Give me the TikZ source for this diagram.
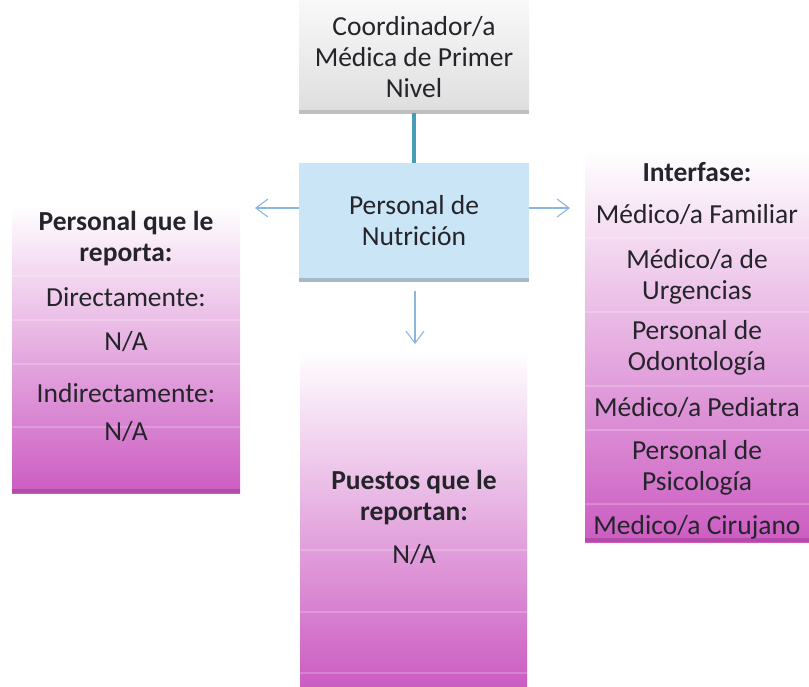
\documentclass[tikz,border=0pt]{standalone}
\usepackage{fontspec}
\setmainfont{Carlito}
\usetikzlibrary{arrows.meta}
\definecolor{txtc}{RGB}{36,36,42}
\definecolor{magc}{RGB}{204,92,194}
\definecolor{magdark}{RGB}{178,76,168}
\definecolor{lblue}{RGB}{202,229,245}
\definecolor{bshadow}{RGB}{165,185,200}
\definecolor{conncol}{RGB}{72,156,182}
\definecolor{arrcol}{RGB}{140,182,226}
\tikzset{
  lbl/.style={font=\fontsize{27.5}{31}\selectfont, text=txtc, align=center, inner sep=0pt},
  blbl/.style={lbl, font=\fontsize{27.5}{31}\selectfont\bfseries},
  magbox/.style={shade, top color=white, bottom color=magc, draw=none, inner sep=0pt, anchor=north west},
  rowline/.style={draw=white, opacity=0.2, line width=1.2pt},
  arr/.style={draw=arrcol, line width=1.1pt, -{Straight Barb[length=12pt,width=18pt,line width=1.1pt]}},
  conn/.style={draw=conncol, line width=4pt},
}
\begin{document}
\begin{tikzpicture}[x=1pt,y=-1pt]
\useasboundingbox (0,0) rectangle (809,686);
% top box
\node[shade, top color=gray!5, bottom color=gray!26, draw=none, inner sep=0pt,
      minimum width=230pt, minimum height=113pt, anchor=north west] (topbox) at (299,0) {};
\fill[gray!50] (299,110) rectangle (529,114);
\node[lbl] (toptext) at (414,57) {Coordinador/a\\Médica de Primer\\Nivel};
% center box
\node[fill=lblue, draw=none, inner sep=0pt, minimum width=230pt, minimum height=117pt,
      anchor=north west] (center) at (299,163) {};
\fill[bshadow] (299,278) rectangle (529,282);
\node[lbl] (centertext) at (414,221) {Personal de\\Nutrición};
% connector
\draw[conn] (topbox.south) -- (center.north);
% left box
\node[magbox, minimum width=228pt, minimum height=288pt] (lbox) at (12,205) {};
\foreach \yy in {276,320,364,427} \draw[rowline] (12,\yy) -- (240,\yy);
\fill[magdark] (12,489) rectangle (240,493);
\node[blbl] (ltitle) at (126,239) {Personal que le\\reporta:};
\node[lbl] (ld) at (126,297) {Directamente:};
\node[lbl] (lna1) at (126,342) {N/A};
\node[lbl] (li) at (126,393) {Indirectamente:};
\node[lbl] (lna2) at (126,432) {N/A};
% right box
\node[magbox, minimum width=224pt, minimum height=392pt] (rbox) at (585,150) {};
\foreach \yy in {238,312,386,430,504} \draw[rowline] (585,\yy) -- (809,\yy);
\fill[magdark] (585,538) rectangle (809,542);
\node[blbl] (rtitle) at (697,172) {Interfase:};
\node[lbl] (r1) at (697,215) {Médico/a Familiar};
\node[lbl] (r2) at (697,277) {Médico/a de\\Urgencias};
\node[lbl] (r3) at (697,348) {Personal de\\Odontología};
\node[lbl] (r4) at (697,408) {Médico/a Pediatra};
\node[lbl] (r5) at (697,468) {Personal de\\Psicología};
\node[lbl] (r6) at (697,527) {Medico/a Cirujano};
% bottom box
\node[magbox, minimum width=227pt, minimum height=336pt] (bbox) at (300,350) {};
\foreach \yy in {550,612,673} \draw[rowline] (300,\yy) -- (527,\yy);
\node[blbl] (btitle) at (414,498) {Puestos que le\\reportan:};
\node[lbl] (bna) at (414,555) {N/A};
% arrows
\coordinate (la) at (255,208);
\coordinate (ra) at (570,208);
\coordinate (da0) at (415,291);
\coordinate (da) at (415,344);
\draw[arr] (center.west |- la) -- (la);
\draw[arr] (center.east |- ra) -- (ra);
\draw[arr] (da0) -- (da);
\end{tikzpicture}
\end{document}
